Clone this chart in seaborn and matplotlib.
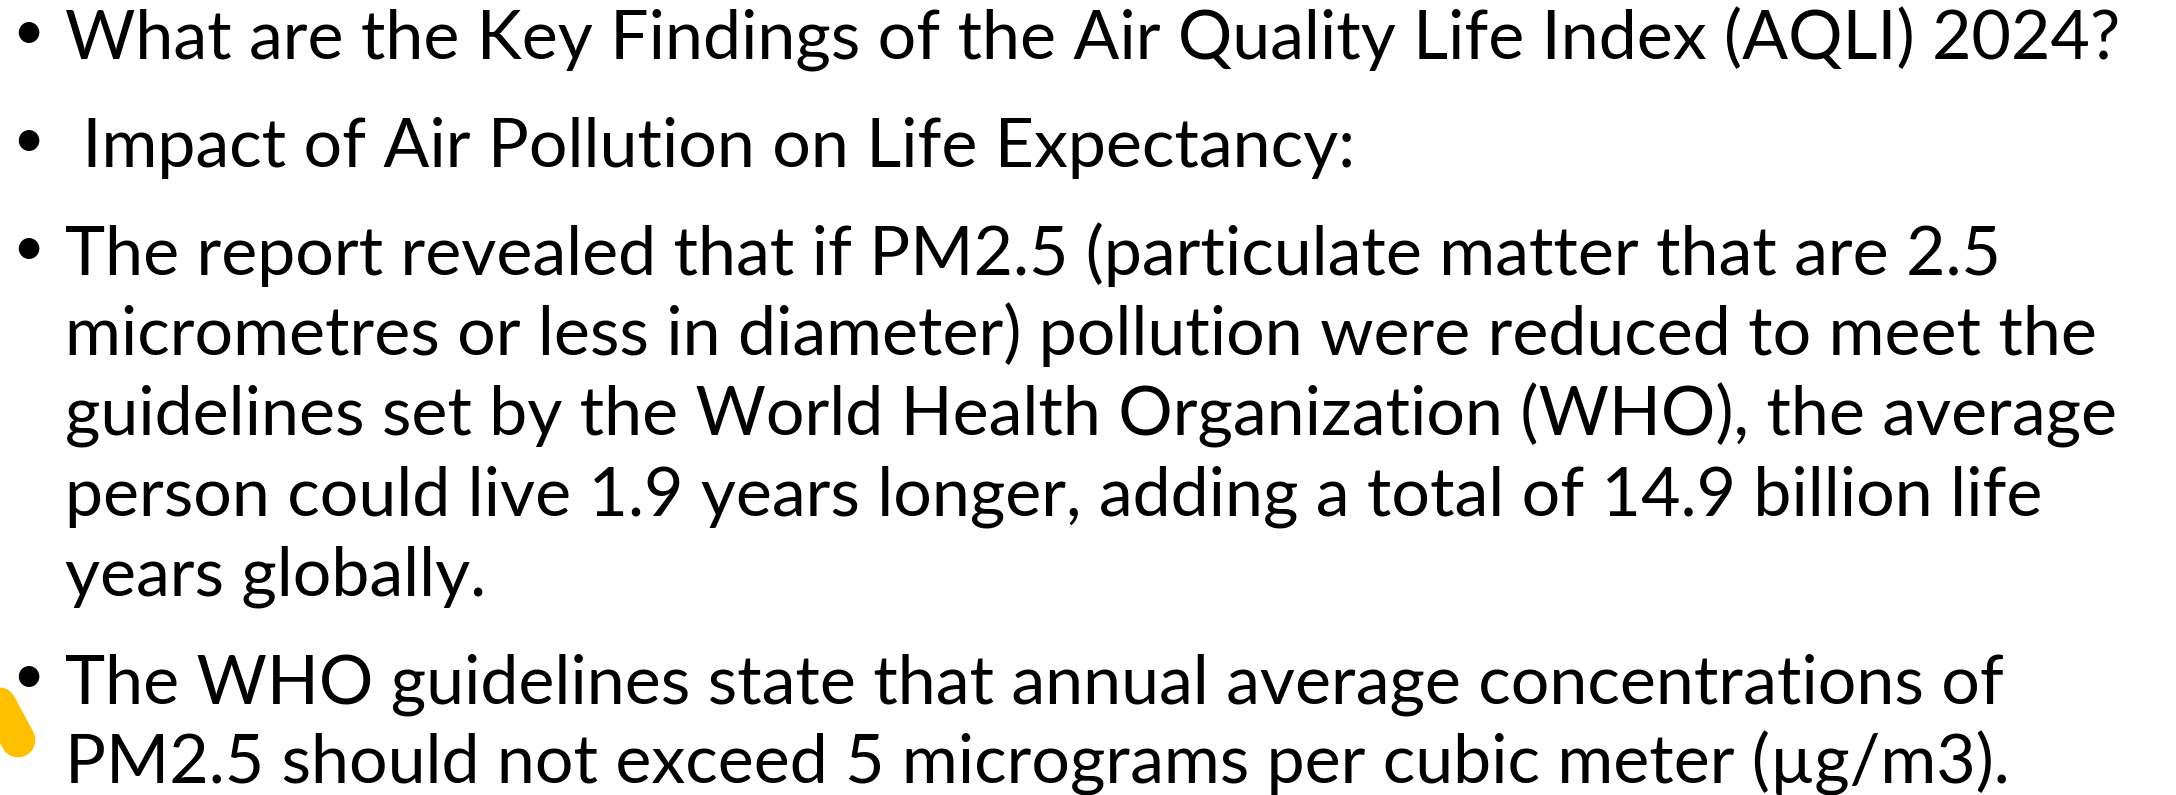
"""
AQLI 2024 スライドの再現
"""
import matplotlib
matplotlib.use("Agg")
import matplotlib.pyplot as plt
import seaborn as sns

# スライドの本文 (行ごと)
lines = [
    "What are the Key Findings of the Air Quality Life Index (AQLI) 2024?",
    " Impact of Air Pollution on Life Expectancy:",
    "The report revealed that if PM2.5 (particulate matter that are 2.5",
    "micrometres or less in diameter) pollution were reduced to meet the",
    "guidelines set by the World Health Organization (WHO), the average",
    "person could live 1.9 years longer, adding a total of 14.9 billion life",
    "years globally.",
    "The WHO guidelines state that annual average concentrations of",
    "PM2.5 should not exceed 5 micrograms per cubic meter (µg/m3).",
]
# 箇条書きの先頭行かどうか
bullet_start = [True, True, True, False, False, False, False, True, False]

# 左下の黄色いアクセント線
accent_x = [-25, 18]
accent_y = [660, 740]

W, H = 2176, 795
FIRST_BASELINE = 59
LINE_GAP = 80
PARA_GAP = 108
TEXT_X = 65
BULLET_X = 28

sns.set_theme(style="white")
plt.rcParams["font.family"] = ["Lato", "DejaVu Sans"]

fig = plt.figure(figsize=(W / 100, H / 100), dpi=100)
ax = fig.add_axes([0, 0, 1, 1])

sns.lineplot(
    x=accent_x, y=accent_y, ax=ax, color="#FFC000",
    linewidth=25, solid_capstyle="round", legend=False,
)

y = FIRST_BASELINE
for i, (text, is_bullet) in enumerate(zip(lines, bullet_start)):
    if i > 0:
        y += PARA_GAP if is_bullet else LINE_GAP
    if is_bullet:
        ax.text(BULLET_X, y - 10, "•", fontsize=40, ha="center",
                va="baseline", color="black")
    ax.text(TEXT_X, y, text, fontsize=49, ha="left", va="baseline",
            color="black")

ax.set_xlim(0, W)
ax.set_ylim(H, 0)
ax.axis("off")

plt.savefig("out.png", dpi=100, facecolor="white")
plt.clf()
